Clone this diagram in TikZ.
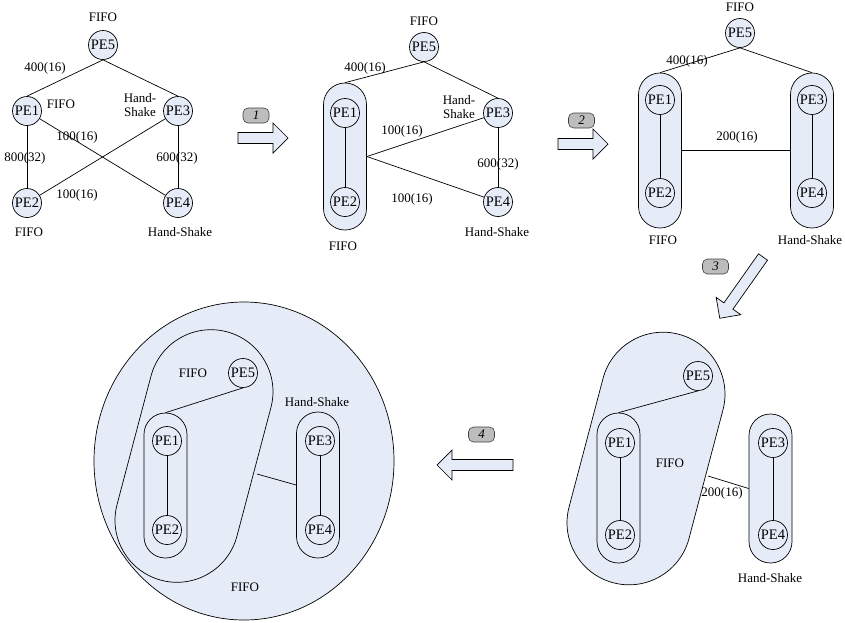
\documentclass[tikz,border=0pt]{standalone}
\usepackage{fontspec}
\setmainfont{Liberation Serif}
\usetikzlibrary{shapes.geometric,shapes.misc}
\definecolor{boxfill}{HTML}{E6ECF7}
\definecolor{badgefill}{HTML}{BDBDBD}
\newcommand\myblockarrow[3]{%
  \draw[arrowbody, shift={(#1)}, rotate=#2] (0,-5.5) -- ({#3-15},-5.5) -- ({#3-15},-15) -- (#3,0) -- ({#3-15},15) -- ({#3-15},5.5) -- (0,5.5) -- cycle;}
\begin{document}
\begin{tikzpicture}[x=1pt,y=-1pt,
  every node/.style={font=\fontsize{13}{14}\selectfont},
  pe/.style={circle, draw, fill=boxfill, minimum size=29pt, inner sep=0pt, line width=0.7pt, font=\fontsize{14.5}{15}\selectfont},
  capsule/.style={draw, fill=boxfill, rectangle, rounded corners=21.4pt, minimum width=43pt, inner sep=0pt, line width=0.7pt},
  bigcap/.style={draw, fill=boxfill, rounded rectangle, minimum width=257pt, minimum height=124pt, inner sep=0pt, rotate=75.2, line width=0.7pt},
  lbl/.style={inner sep=0pt},
  link/.style={line width=0.7pt},
  arrowbody/.style={draw, fill=boxfill, line width=0.7pt},
  badge/.style={draw=black!75, fill=badgefill, rounded corners=5pt, minimum width=26pt, minimum height=15pt, inner sep=0pt, font=\fontsize{13}{13}\selectfont\itshape, line width=0.6pt}]
\useasboundingbox (0,0) rectangle (845,622);

% ---------------- Diagram 1 ----------------
\node[pe] (a5) at (103,45) {PE5};
\node[pe] (a1) at (27,111) {PE1};
\node[pe] (a3) at (178,111) {PE3};
\node[pe] (a2) at (27,203) {PE2};
\node[pe] (a4) at (178,203) {PE4};
\draw[link] (a5.south) -- (a1.north);
\draw[link] (a5.south) -- (a3.north);
\draw[link] (a1) -- (a2);
\draw[link] (a3) -- (a4);
\draw[link] (a1) -- (a4);
\draw[link] (a2) -- (a3);
\node[lbl] (la1) at (103,17) {FIFO};
\node[lbl] (la2) at (45,68) {400(16)};
\node[lbl] (la3) at (61,104) {FIFO};
\node[lbl, align=center] (la4) at (140,105) {Hand-\\Shake};
\node[lbl] (la5) at (77,137) {100(16)};
\node[lbl] (la6) at (25,158) {800(32)};
\node[lbl] (la7) at (177,158) {600(32)};
\node[lbl] (la8) at (77,195) {100(16)};
\node[lbl] (la9) at (29,232) {FIFO};
\node[lbl] (la10) at (180,232) {Hand-Shake};

% arrow 1
\myblockarrow{238,138}{0}{50}
\node[badge] (k1) at (256,115.5) {1};

% ---------------- Diagram 2 ----------------
\node[capsule, minimum height=147pt] (g2) at (345,156.5) {};
\node[pe] (b5) at (424,47) {PE5};
\node[pe] (b1) at (345,113) {PE1};
\node[pe] (b2) at (345,202) {PE2};
\node[pe] (b3) at (498,113) {PE3};
\node[pe] (b4) at (498,202) {PE4};
\draw[link] (b5.south) -- (g2.north);
\draw[link] (b5.south) -- (b3.north);
\draw[link] (b1) -- (b2);
\draw[link] (b3) -- (b4);
\draw[link] (g2.east) -- (b3);
\draw[link] (g2.east) -- (b4);
\node[lbl] (lb1) at (424,21) {FIFO};
\node[lbl] (lb2) at (365,68) {400(16)};
\node[lbl, align=center] (lb3) at (459,107) {Hand-\\Shake};
\node[lbl] (lb4) at (402,131) {100(16)};
\node[lbl] (lb5) at (412,199) {100(16)};
\node[lbl] (lb6) at (498,164) {600(32)};
\node[lbl] (lb7) at (497,232) {Hand-Shake};
\node[lbl] (lb8) at (343,246) {FIFO};

% arrow 2
\myblockarrow{558,144}{0}{50}
\node[badge] (k2) at (581.5,120.5) {2};

% ---------------- Diagram 3 ----------------
\node[capsule, minimum height=155pt] (gL) at (660,150.5) {};
\node[capsule, minimum height=155pt] (gR) at (812,150.5) {};
\node[pe] (c5) at (740,33) {PE5};
\node[pe] (c1) at (660,100) {PE1};
\node[pe] (c2) at (660,193) {PE2};
\node[pe] (c3) at (812,100) {PE3};
\node[pe] (c4) at (812,193) {PE4};
\draw[link] (c5.south) -- (gL.north);
\draw[link] (c5.south) -- (gR.north);
\draw[link] (c1) -- (c2);
\draw[link] (c3) -- (c4);
\draw[link] (gL.east) -- (gR.west);
\node[lbl] (lc1) at (740,7) {FIFO};
\node[lbl] (lc2) at (687,61) {400(16)};
\node[lbl] (lc3) at (737,137) {200(16)};
\node[lbl] (lc4) at (663,240) {FIFO};
\node[lbl] (lc5) at (810,240) {Hand-Shake};

% arrow 3
\myblockarrow{763,257}{234.8}{75}
\node[badge] (k3) at (715.5,266.5) {3};

% ---------------- Diagram 4 ----------------
\node[bigcap] (g4) at (646,458.5) {};
\node[capsule, minimum height=150pt] (g4a) at (618.5,488) {};
\node[capsule, minimum height=149pt] (g4b) at (770.5,488.5) {};
\node[pe] (d5) at (698,376) {PE5};
\node[pe] (d1) at (620,443) {PE1};
\node[pe] (d2) at (620,535) {PE2};
\node[pe] (d3) at (773,443) {PE3};
\node[pe] (d4) at (773,535) {PE4};
\coordinate (d4e) at (708,476);
\draw[link] (d5.south) -- (g4a.north);
\draw[link] (d1) -- (d2);
\draw[link] (d3) -- (d4);
\draw[link] (d4e) -- (g4b.west);
\node[lbl] (ld1) at (670,463) {FIFO};
\node[lbl] (ld2) at (722,493) {200(16)};
\node[lbl] (ld3) at (770,578) {Hand-Shake};

% arrow 4
\myblockarrow{513,465}{180}{76}
\node[badge] (k4) at (481.5,434.5) {4};

% ---------------- Diagram 5 ----------------
\node[ellipse, draw, fill=boxfill, minimum width=300pt, minimum height=318pt, inner sep=0pt, line width=0.7pt] (e5) at (244,461) {};
\node[bigcap] (g5) at (194,456) {};
\node[capsule, minimum height=145pt] (g5a) at (165.5,485.5) {};
\node[capsule, minimum height=146pt] (g5b) at (318,485) {};
\node[pe] (f5) at (243,373) {PE5};
\node[pe] (f1) at (167,441) {PE1};
\node[pe] (f2) at (167,530) {PE2};
\node[pe] (f3) at (320,441) {PE3};
\node[pe] (f4) at (320,530) {PE4};
\coordinate (f5e) at (257,474);
\draw[link] (f5.south) -- (g5a.north);
\draw[link] (f1) -- (f2);
\draw[link] (f3) -- (f4);
\draw[link] (f5e) -- (g5b.west);
\node[lbl] (lf1) at (193,373) {FIFO};
\node[lbl] (lf2) at (317,402) {Hand-Shake};
\node[lbl] (lf3) at (245,587) {FIFO};
\end{tikzpicture}
\end{document}
